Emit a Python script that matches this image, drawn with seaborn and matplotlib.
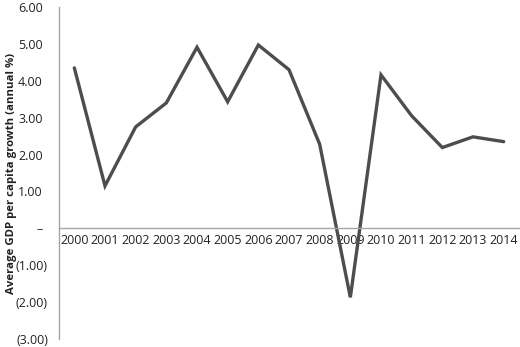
import matplotlib
matplotlib.use("Agg")
import matplotlib.pyplot as plt
import matplotlib.ticker as mticker
import matplotlib.transforms as mtransforms
import seaborn as sns
import pandas as pd
import numpy as np

years = list(range(2000, 2015))
growth = [4.35, 1.15, 2.75, 3.40, 4.91, 3.43, 4.97, 4.30, 2.28, -1.87,
          4.16, 3.05, 2.19, 2.48, 2.35]
y_ticks = [-3, -2, -1, 0, 1, 2, 3, 4, 5, 6]
y_label = "Average GDP per capita growth (annual %)"

sns.set_style("white")
plt.rcParams['font.family'] = ['Open Sans', 'DejaVu Sans']

df = pd.DataFrame({"year": years, "growth": growth})

fig = plt.figure(figsize=(5.2, 3.47), dpi=100)
ax = fig.add_axes([59/520, 8/347, 460/520, 332/347])
sns.lineplot(data=df, x="year", y="growth", ax=ax, color="#4d4d4d",
             linewidth=2.4, solid_joinstyle="miter")

ax.set_xlim(1999.5, 2014.5)
ax.set_ylim(-3, 6)

def fmt(v):
    if abs(v) < 1e-9:
        return "\u2013"
    if v < 0:
        return "({:.2f})".format(-v)
    return "{:.2f}".format(v)

ax.set_yticks(y_ticks)
ax.set_yticklabels([fmt(v) for v in y_ticks])
ax.set_xticks(years)
ax.set_xticklabels([str(y) for y in years])
ax.set_xticks([y + 0.5 for y in years], minor=True)

gray = "#a6a6a6"
for s in ["top", "right"]:
    ax.spines[s].set_visible(False)
ax.spines["bottom"].set_position(("data", 0))
ax.spines["bottom"].set_color(gray)
ax.spines["left"].set_color(gray)
ax.spines["bottom"].set_linewidth(1.0)
ax.spines["left"].set_linewidth(1.0)

ax.tick_params(axis="x", which="major", length=0, pad=4, labelsize=9.0, colors="#222222")
ax.tick_params(axis="x", which="minor", length=3, color=gray, direction="out", width=1.0)
ax.tick_params(axis="y", which="major", length=4, color=gray, direction="out", width=1.0,
               pad=4, labelsize=9.0, labelcolor="#222222")
ax.tick_params(axis="x", labelcolor="#222222")

# accounting-style alignment: non-negative labels leave room for ")"
shift = mtransforms.ScaledTranslation(-5/100, 0, fig.dpi_scale_trans)
for v, lab in zip(y_ticks, ax.get_yticklabels()):
    if v >= 0:
        lab.set_transform(lab.get_transform() + shift)

ax.set_xlabel("")
ax.set_ylabel(y_label, fontsize=8.2, fontweight="bold", color="#222222")
ax.yaxis.set_label_coords(-0.0913, 0.5)

fig.savefig("out.png", dpi=100)
